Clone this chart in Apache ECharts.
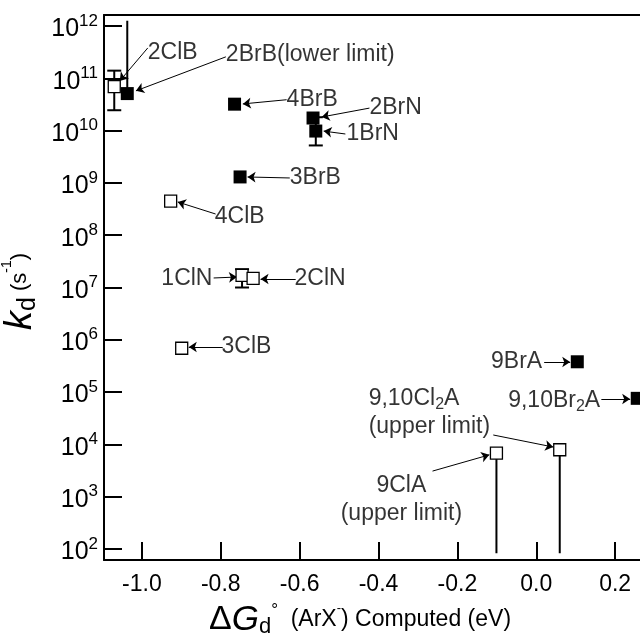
<!DOCTYPE html>
<html><head><meta charset="utf-8">
<script src="https://cdn.jsdelivr.net/npm/echarts@6/dist/echarts.min.js"></script>
<style>html,body{margin:0;padding:0;background:#fff}#c{width:640px;height:637px}</style>
</head><body><div id="c"></div>
<script>
// ---- data ----
// open squares (chloro compounds)
const openNames = ['2ClB','4ClB','1ClN','2ClN','3ClB','9ClA','9,10Cl2A'];
const openX = [-1.070, -0.927, -0.746, -0.718, -0.899, -0.101, 0.0595];
const openK = [6.9e10, 4.5e8, 1.7e7, 1.5e7, 6.9e5, 6.8e3, 7.9e3];
// filled squares (bromo compounds)
const filledNames = ['2BrB','4BrB','2BrN','1BrN','3BrB','9BrA','9,10Br2A'];
const filledX = [-1.037, -0.765, -0.566, -0.559, -0.751, 0.104, 0.256];
const filledK = [5.1e10, 3.2e10, 1.74e10, 9.8e9, 1.3e9, 3.8e5, 7.6e4];
// error bars
const errX = [-1.070, -0.746, -0.559];
const errLow = [2.45e10, 1.0e7, 5.2e9];
const errHigh = [1.4e11, 2.24e7, 1.8e10];
// limit lines (lower limit up / upper limit down)
const limX = [-1.037, -0.101, 0.0595];
const limFrom = [5.1e10, 6.8e3, 7.9e3];
const limTo = [1.26e12, 83, 83];
// axis ticks
const xTicks = [-1.0, -0.8, -0.6, -0.4, -0.2, 0.0, 0.2];
const yExp = [2,3,4,5,6,7,8,9,10,11,12];
// annotations: text, anchor x, anchor log10(k), side
const annText = ['2ClB','2BrB(lower limit)','4BrB','2BrN','1BrN','3BrB','4ClB','1ClN','2ClN','3ClB','9BrA','9,10Br{sub|2}A','9,10Cl{sub|2}A\n(upper limit)','9ClA\n(upper limit)'];
const annX = [-0.985, -0.787, -0.633, -0.423, -0.481, -0.625, -0.815, -0.821, -0.613, -0.798, 0.015, 0.162, -0.425, -0.342];
const annY = [11.49, 11.45, 10.59, 10.43, 9.935, 9.094, 8.36, 7.163, 7.163, 5.862, 5.576, 4.83, 4.61, 2.947];
const annSide = ['right','right','right','right','right','right','right','left','right','right','left','left','right','c'];
// arrows: tail (x,log k) -> head (x,log k)
const arrTail = [[-0.985,11.58],[-0.787,11.41],[-0.633,10.59],[-0.423,10.43],[-0.484,9.935],[-0.625,9.094],[-0.813,8.405],[-0.818,7.182],[-0.610,7.163],[-0.795,5.862],[0.020,5.576],[0.165,4.868],[-0.109,4.18],[-0.263,3.49]];
const arrHead = [[-1.056,10.95],[-1.015,10.76],[-0.744,10.51],[-0.544,10.26],[-0.539,9.99],[-0.732,9.113],[-0.909,8.635],[-0.759,7.20],[-0.699,7.163],[-0.881,5.862],[0.086,5.576],[0.238,4.868],[0.043,3.95],[-0.119,3.80]];

const L = Math.log10;
const FONT = 'Liberation Sans, Arial, sans-serif';
const chart = echarts.init(document.getElementById('c'));

const annData = annText.map((t, i) => {
  const side = annSide[i];
  const lab = {show: true, formatter: t, distance: 0,
    position: side === 'c' ? 'inside' : side,
    align: side === 'right' ? 'left' : (side === 'left' ? 'right' : 'center'),
    lineHeight: 28};
  return {value: [annX[i], annY[i]], label: lab};
});

const barRender = (withCaps) => function (params, api) {
  const x = api.value(0), lo = api.value(1), hi = api.value(2);
  const p1 = api.coord([x, lo]), p2 = api.coord([x, hi]);
  const ch = [{type: 'line', shape: {x1: p1[0], y1: p1[1], x2: p2[0], y2: p2[1]}, style: {stroke: '#000', lineWidth: 2}}];
  if (withCaps) {
    const w = 7;
    ch.push({type: 'line', shape: {x1: p1[0]-w, y1: p1[1], x2: p1[0]+w, y2: p1[1]}, style: {stroke: '#000', lineWidth: 2}});
    ch.push({type: 'line', shape: {x1: p2[0]-w, y1: p2[1], x2: p2[0]+w, y2: p2[1]}, style: {stroke: '#000', lineWidth: 2}});
  }
  return {type: 'group', children: ch};
};

const option = {
  animation: false,
  backgroundColor: '#fff',
  textStyle: {fontFamily: FONT, color: '#000'},
  grid: {left: 104, right: 0, top: 15, bottom: 77, containLabel: false, outerBoundsMode: 'none'},
  xAxis: [{
    type: 'value', min: -1.096, max: 0.263,
    axisLine: {show: true, onZero: false, lineStyle: {color: '#000', width: 2}},
    axisTick: {show: true, inside: true, length: 18, lineStyle: {color: '#000', width: 2}, customValues: xTicks},
    axisLabel: {show: true, margin: 13, fontSize: 23, color: '#000', fontFamily: FONT, customValues: xTicks,
      formatter: v => v.toFixed(1)},
    splitLine: {show: false},
    name: '{D|Δ}{G|G}{sub|d}{deg|°}{n|  (ArX}{sup|-}{n|) Computed (eV)}',
    nameLocation: 'middle', nameGap: 42,
    nameTextStyle: {color: '#000', fontFamily: FONT, padding: [0, 24, 0, 0],
      rich: {
        D: {fontSize: 34, fontFamily: FONT, lineHeight: 36},
        G: {fontSize: 35, fontStyle: 'italic', fontFamily: FONT, lineHeight: 36},
        sub: {fontSize: 22, fontFamily: FONT, lineHeight: 14, verticalAlign: 'bottom'},
        deg: {fontSize: 17, fontFamily: FONT, lineHeight: 14, verticalAlign: 'top'},
        n: {fontSize: 23, fontFamily: FONT, lineHeight: 36},
        sup: {fontSize: 13, fontFamily: FONT, lineHeight: 16, verticalAlign: 'top'}
      }}
  }, {
    type: 'value', position: 'top', min: -1.096, max: 0.263,
    axisLine: {show: true, onZero: false, lineStyle: {color: '#000', width: 2}},
    axisTick: {show: false}, axisLabel: {show: false}, splitLine: {show: false}
  }],
  yAxis: {
    type: 'value', min: 1.79, max: 12.21,
    axisLine: {show: true, onZero: false, lineStyle: {color: '#000', width: 2}},
    axisTick: {show: true, inside: true, length: 18, lineStyle: {color: '#000', width: 2}, customValues: yExp},
    axisLabel: {show: true, margin: 6, color: '#000', customValues: yExp, padding: [7, 0, 0, 0],
      formatter: v => '{b|10}{s|' + v + '}',
      rich: {
        b: {fontSize: 25, fontFamily: FONT, lineHeight: 34, verticalAlign: 'middle'},
        s: {fontSize: 17, fontFamily: FONT, lineHeight: 12, verticalAlign: 'top'}
      }},
    splitLine: {show: false},
    name: '{k|k}{d|d}{n| (s}{sup|-1}{n|)}',
    nameLocation: 'middle', nameGap: 59, nameRotate: 90,
    nameTextStyle: {color: '#000', padding: [0, 8, 0, 0], rich: {
      k: {fontSize: 38, fontStyle: 'italic', fontFamily: FONT, lineHeight: 40},
      d: {fontSize: 25, fontFamily: FONT, lineHeight: 16, verticalAlign: 'bottom'},
      n: {fontSize: 22, fontFamily: FONT, lineHeight: 40},
      sup: {fontSize: 14, fontFamily: FONT, lineHeight: 14, verticalAlign: 'top'}
    }}
  },
  series: [
    {type: 'custom', name: 'err', renderItem: barRender(true), silent: true, z: 2,
      data: errX.map((x, i) => [x, L(errLow[i]), L(errHigh[i])])},
    {type: 'custom', name: 'lim', renderItem: barRender(false), silent: true, z: 2,
      data: limX.map((x, i) => [x, L(limFrom[i]), L(limTo[i])])},
    {type: 'scatter', name: 'open', symbol: 'rect', symbolSize: 12, z: 5, silent: true,
      itemStyle: {color: '#fff', borderColor: '#000', borderWidth: 1.3, opacity: 1},
      data: openX.map((x, i) => [x, L(openK[i])])},
    {type: 'scatter', name: 'filled', symbol: 'rect', symbolSize: 13, z: 5, silent: true,
      itemStyle: {color: '#000', opacity: 1},
      data: filledX.map((x, i) => [x, L(filledK[i])])},
    {type: 'scatter', name: 'ann', symbolSize: 0, z: 6, silent: true,
      label: {show: true, color: '#000', fontSize: 23, fontFamily: FONT,
        rich: {sub: {fontSize: 16, fontFamily: FONT, lineHeight: 10, verticalAlign: 'bottom'}}},
      data: annData,
      markLine: {silent: true, symbol: ['none', 'arrow'], symbolSize: 8, animation: false,
        label: {show: false}, lineStyle: {color: '#000', width: 1, type: 'solid'},
        emphasis: {disabled: true},
        data: arrTail.map((t, i) => [{coord: t}, {coord: arrHead[i]}])}
    }
  ]
};
chart.setOption(option);
</script>
</body></html>
